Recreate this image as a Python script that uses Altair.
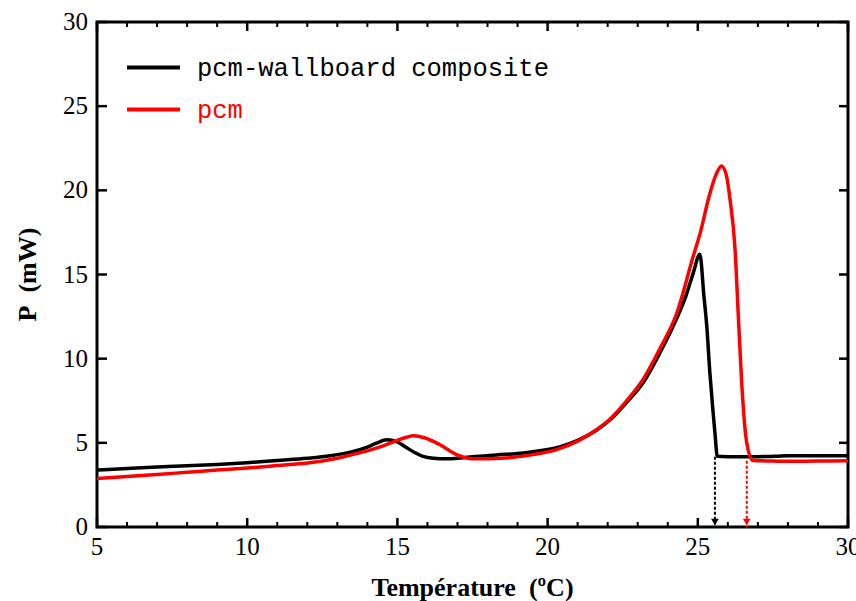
import altair as alt
import pandas as pd

# ---- data ----
series_names = ["pcm-wallboard composite", "pcm"]
series_colors = ["#000000", "#ff0000"]

black_T = [5.0, 6.0, 7.0, 8.0, 9.0, 10.0, 11.0, 12.0, 12.5, 13.0, 13.5, 14.0, 14.3, 14.65,
           15.0, 15.3, 15.6, 15.85, 16.2, 16.64, 17.1, 17.5, 18.3, 19.2, 19.8, 20.4, 21.0,
           21.6, 22.1, 22.63, 23.19, 23.74, 24.3, 24.6, 24.85, 25.07, 25.2, 25.3, 25.4, 25.5,
           25.57, 25.65, 26.0, 27.0, 27.6, 28.0, 29.0, 30.0]
black_P = [3.38, 3.48, 3.57, 3.64, 3.72, 3.82, 3.95, 4.08, 4.17, 4.3, 4.48, 4.75, 4.98, 5.18,
           5.05, 4.72, 4.4, 4.19, 4.08, 4.05, 4.1, 4.17, 4.28, 4.4, 4.55, 4.76, 5.15,
           5.72, 6.4, 7.4, 8.6, 10.35, 12.4, 13.7, 15.1, 16.2, 13.8, 11.9, 9.2, 7.0,
           5.6, 4.2, 4.18, 4.18, 4.2, 4.24, 4.24, 4.24]

red_T = [5.0, 6.0, 7.0, 8.0, 9.0, 10.0, 11.0, 12.0, 12.5, 13.0, 13.5, 14.0, 14.5, 15.0,
         15.3, 15.53, 15.9, 16.4, 16.97, 17.5, 18.6, 19.5, 20.3, 21.0, 21.6, 22.1, 22.63,
         23.19, 23.74, 24.3, 24.85, 25.07, 25.4, 25.6, 25.79, 25.95, 26.07, 26.24, 26.35,
         26.46, 26.63, 26.84, 27.5, 28.0, 29.0, 30.0]
red_P = [2.88, 3.0, 3.12, 3.25, 3.38, 3.5, 3.65, 3.8, 3.92, 4.08, 4.3, 4.52, 4.8, 5.15,
         5.33, 5.42, 5.3, 4.9, 4.3, 4.05, 4.1, 4.3, 4.6, 5.1, 5.75, 6.45, 7.5,
         8.8, 10.6, 12.7, 16.1, 17.4, 19.8, 20.9, 21.45, 20.9, 19.5, 16.5, 12.5,
         8.6, 5.0, 3.95, 3.92, 3.9, 3.92, 3.93]

arrow_T = [25.57, 26.63]
arrow_top = [4.18, 3.93]

x_major = [5, 10, 15, 20, 25, 30]
x_minor = [v for v in range(5, 31) if v % 5 != 0]
y_major = [0, 5, 10, 15, 20, 25, 30]
x_title = ["Température\u00a0 (ºC)"]
y_title = ["P\u00a0 (mW)"]

W, H = 751, 505
X_MIN, X_MAX, Y_MIN, Y_MAX = 5, 30, 0, 30
# tick lengths (px) converted into data units
XU = (X_MAX - X_MIN) / W
YU = (Y_MAX - Y_MIN) / H

curves = pd.DataFrame({
    "T": black_T + red_T,
    "P": black_P + red_P,
    "series": [series_names[0]] * len(black_T) + [series_names[1]] * len(red_T),
    "idx": list(range(len(black_T))) + list(range(len(red_T))),
})
arrows = pd.DataFrame({
    "T": arrow_T,
    "top": arrow_top,
    "base": [0, 0],
    "series": series_names,
})
xmaj_df = pd.DataFrame({"T": x_major, "label": [str(v) for v in x_major]})
ymaj_df = pd.DataFrame({"P": y_major, "label": [str(v) for v in y_major]})
xtitle_df = pd.DataFrame({"label": x_title})
ytitle_df = pd.DataFrame({"label": y_title})


def xtick_df(values, y0, length_px):
    sign = 1 if y0 == Y_MIN else -1
    return pd.DataFrame({"T": values, "lo": [y0] * len(values),
                         "hi": [y0 + sign * length_px * YU] * len(values)})


def ytick_df(values, x0, length_px):
    sign = 1 if x0 == X_MIN else -1
    return pd.DataFrame({"P": values, "lo": [x0] * len(values),
                         "hi": [x0 + sign * length_px * XU] * len(values)})


xscale = alt.Scale(domain=[X_MIN, X_MAX], nice=False, zero=False)
yscale = alt.Scale(domain=[Y_MIN, Y_MAX], nice=False, zero=False)
cscale = alt.Scale(domain=series_names, range=series_colors)


def X(field):
    return alt.X(field, scale=xscale, axis=None)


def Y(field):
    return alt.Y(field, scale=yscale, axis=None)


main = alt.Chart(curves).mark_line(strokeWidth=3.5, interpolate="monotone").encode(
    x=X("T:Q"),
    y=Y("P:Q"),
    color=alt.Color("series:N", scale=cscale,
                    legend=alt.Legend(orient="none", legendX=28, legendY=17, title=None,
                                      symbolType="stroke", symbolSize=2809,
                                      symbolStrokeWidth=4, labelFont="Liberation Mono",
                                      labelFontSize=25.5, labelOffset=15, rowPadding=-11,
                                      padding=0, labelLimit=0,
                                      labelColor={"expr": "datum.label == 'pcm' ? '#ff0000' : '#000000'"})),
    order="idx:Q",
)


def xticks(df, w):
    return alt.Chart(df).mark_rule(color="black", strokeWidth=w).encode(
        x=X("T:Q"), y=Y("lo:Q"), y2="hi:Q",
    )


def yticks(df, w):
    return alt.Chart(df).mark_rule(color="black", strokeWidth=w).encode(
        y=Y("P:Q"), x=X("lo:Q"), x2="hi:Q",
    )


tick_layers = [
    xticks(xtick_df(x_major, Y_MIN, 9), 2.5),
    xticks(xtick_df(x_minor, Y_MIN, 5), 2),
    xticks(xtick_df(x_major, Y_MAX, 9), 2.5),
    xticks(xtick_df(x_minor, Y_MAX, 5), 2),
    yticks(ytick_df(y_major, X_MIN, 10), 2.5),
    yticks(ytick_df(y_major, X_MAX, 9), 2.5),
]

x_labels = alt.Chart(xmaj_df).mark_text(
    font="Liberation Serif", fontSize=25, color="black", align="center", baseline="top"
).encode(x=X("T:Q"), y=alt.value(H + 8), text="label:N")

y_labels = alt.Chart(ymaj_df).mark_text(
    font="Liberation Serif", fontSize=25, color="black", align="right", baseline="middle"
).encode(y=Y("P:Q"), x=alt.value(-9), text="label:N")

x_title_mark = alt.Chart(xtitle_df).mark_text(
    font="Liberation Serif", fontSize=26, fontWeight="bold", color="black",
    align="center", baseline="alphabetic"
).encode(x=alt.value(W / 2), y=alt.value(H + 69), text="label:N")

y_title_mark = alt.Chart(ytitle_df).mark_text(
    font="Liberation Serif", fontSize=26, fontWeight="bold", color="black",
    align="center", baseline="middle", angle=270
).encode(x=alt.value(-69), y=alt.value(H / 2), text="label:N")

arrow_lines = alt.Chart(arrows).mark_rule(strokeDash=[3, 2], strokeWidth=2).encode(
    x=X("T:Q"),
    y=Y("top:Q"),
    y2="base:Q",
    color=alt.Color("series:N", scale=cscale, legend=None),
)
arrow_heads = alt.Chart(arrows).mark_point(shape="triangle-down", filled=True, size=60,
                                            opacity=1, yOffset=-5).encode(
    x=X("T:Q"),
    y=Y("base:Q"),
    color=alt.Color("series:N", scale=cscale, legend=None),
)

chart = alt.layer(main, *tick_layers, x_labels, y_labels, x_title_mark, y_title_mark,
                  arrow_lines, arrow_heads).properties(
    width=W, height=H,
    autosize=alt.AutoSizeParams(type="none"),
    padding={"left": 97, "top": 22, "right": 8, "bottom": 74},
    background="white",
).configure_view(
    stroke="black", strokeWidth=3
)

chart.save("out.html", embed_options={"renderer": "svg", "actions": False})
